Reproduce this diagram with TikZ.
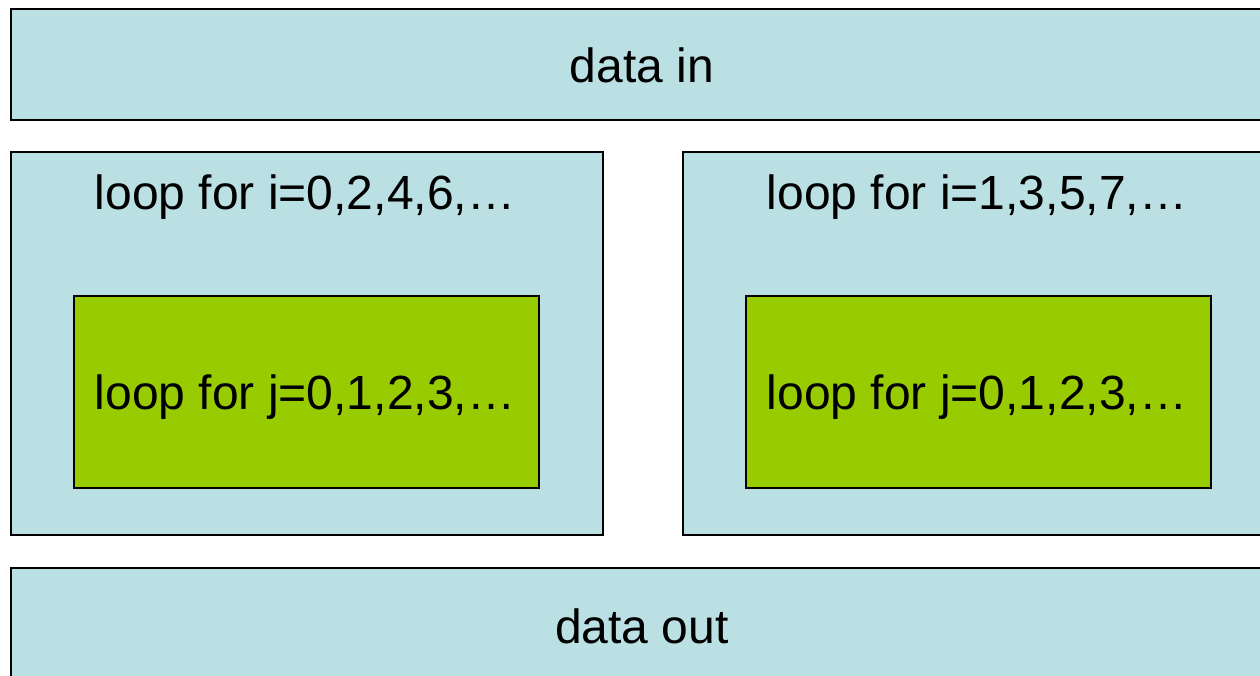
\documentclass[tikz,border=0pt]{standalone}
\usepackage{fontspec}
\setmainfont{Liberation Sans}
\definecolor{boxblue}{HTML}{BBE0E3}
\definecolor{boxgreen}{HTML}{99CC00}
\tikzset{
  blk/.style={draw=black, line width=2pt, fill=boxblue},
  grn/.style={draw=black, line width=2pt, fill=boxgreen},
  lbl/.style={font=\fontsize{48}{57}\selectfont, inner sep=0pt, anchor=base}
}
\begin{document}
\begin{tikzpicture}[x=1pt,y=-1pt]
\useasboundingbox (0,0) rectangle (1260,675);
% data in
\draw[blk] (11,9) rectangle (1274,120);
\node[lbl] (din) at (642,82) {data in};
% left loop
\draw[blk] (11,152) rectangle (603,535);
\node[lbl] (li) at (305,209) {loop for i=0,2,4,6,\ldots};
\draw[grn] (74,296) rectangle (539,488);
\node[lbl] (lj) at (305,409) {loop for j=0,1,2,3,\ldots};
% right loop
\draw[blk] (683,152) rectangle (1274,535);
\node[lbl] (ri) at (977,209) {loop for i=1,3,5,7,\ldots};
\draw[grn] (746,296) rectangle (1211,488);
\node[lbl] (rj) at (977,409) {loop for j=0,1,2,3,\ldots};
% data out
\draw[blk] (11,568) rectangle (1274,690);
\node[lbl] (dout) at (642,643) {data out};
\end{tikzpicture}
\end{document}
